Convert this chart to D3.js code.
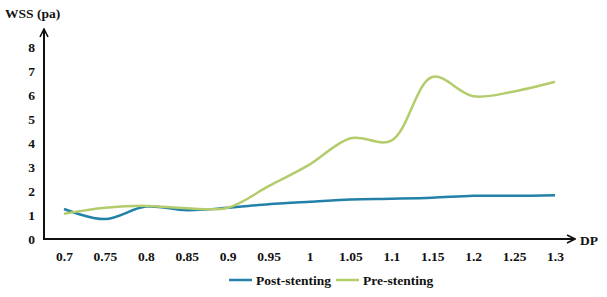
<!DOCTYPE html>
<html>
<head>
<meta charset="utf-8">
<script src="https://cdn.jsdelivr.net/npm/d3@7"></script>
<style>
  body { margin: 0; background: #fff; }
  svg text { font-family: "Liberation Serif", serif !important; font-weight: bold; }
</style>
</head>
<body>
<div id="container"></div>
<script>
// data
let dpValues = [0.7, 0.75, 0.8, 0.85, 0.9, 0.95, 1, 1.05, 1.1, 1.15, 1.2, 1.25, 1.3];
let dpLabels = ["0.7", "0.75", "0.8", "0.85", "0.9", "0.95", "1", "1.05", "1.1", "1.15", "1.2", "1.25", "1.3"];
let postStenting = [1.25, 0.83, 1.35, 1.2, 1.3, 1.45, 1.55, 1.65, 1.68, 1.72, 1.8, 1.8, 1.82];
let preStenting = [1.05, 1.3, 1.38, 1.28, 1.3, 2.2, 3.1, 4.2, 4.1, 6.75, 5.95, 6.15, 6.55];
let yTicks = [0, 1, 2, 3, 4, 5, 6, 7, 8];

let w = 607;
let h = 297;
let fontSize = "13.5px";

let viz = d3.select("#container")
  .append("svg")
    .attr("width", w)
    .attr("height", h)
    .attr("font-family", "Liberation Serif, serif")
;

let xScale = d3.scalePoint().domain(dpValues).range([64, 555]);
let yScale = d3.scaleLinear().domain([0, 8]).range([239, 47]);

let axisColor = "#111";

// arrow heads
let defs = viz.append("defs");
defs.append("marker")
    .attr("id", "arrow")
    .attr("viewBox", "0 0 10 10")
    .attr("refX", 9)
    .attr("refY", 5)
    .attr("markerWidth", 10)
    .attr("markerHeight", 10)
    .attr("markerUnits", "userSpaceOnUse")
    .attr("orient", "auto")
  .append("path")
    .attr("d", "M1,1 L9,5 L1,9")
    .attr("fill", "none")
    .attr("stroke", axisColor)
    .attr("stroke-width", 1.6)
;

// y axis
viz.append("line")
    .attr("x1", 44).attr("y1", yScale(0) + 1)
    .attr("x2", 44).attr("y2", 29)
    .attr("stroke", axisColor)
    .attr("stroke-width", 2)
    .attr("marker-end", "url(#arrow)")
;
let yAxis = d3.axisLeft(yScale).tickValues(yTicks).tickSize(0).tickPadding(9);
let yAxisGroup = viz.append("g")
    .attr("transform", "translate(44,0)")
    .call(yAxis)
    .attr("font-family", null)
    .attr("font-size", fontSize);
yAxisGroup.select(".domain").remove();
yAxisGroup.selectAll("text").attr("fill", "#111");

// x axis
viz.append("line")
    .attr("x1", 43).attr("y1", yScale(0))
    .attr("x2", 575).attr("y2", yScale(0))
    .attr("stroke", axisColor)
    .attr("stroke-width", 2)
    .attr("marker-end", "url(#arrow)")
;
let xAxis = d3.axisBottom(xScale).tickSize(0).tickPadding(12)
    .tickFormat(function(d, i){ return dpLabels[i]; });
let xAxisGroup = viz.append("g")
    .attr("transform", "translate(0," + yScale(0) + ")")
    .call(xAxis)
    .attr("font-family", null)
    .attr("font-size", fontSize);
xAxisGroup.select(".domain").remove();
xAxisGroup.selectAll("text").attr("fill", "#111");

// axis titles
viz.append("text")
    .attr("x", 5).attr("y", 18)
    .attr("font-size", fontSize)
    .attr("fill", "#111")
    .text("WSS (pa)");
viz.append("text")
    .attr("x", 580).attr("y", 245)
    .attr("font-size", fontSize)
    .attr("fill", "#111")
    .text("DP");

// lines
let series = [
  { name: "Post-stenting", values: postStenting, color: "#2280a9" },
  { name: "Pre-stenting", values: preStenting, color: "#b3cc6c" }
];

let lineMaker = d3.line()
  .x(function(d, i){ return xScale(dpValues[i]); })
  .y(function(d){ return yScale(d); })
  .curve(d3.curveCatmullRom.alpha(0.5));

viz.append("g").selectAll(".line").data(series).enter()
  .append("path")
    .attr("class", "line")
    .attr("d", function(d){ return lineMaker(d.values); })
    .attr("fill", "none")
    .attr("stroke", function(d){ return d.color; })
    .attr("stroke-width", 2.5)
;

// legend
let legendX = [229, 336];
let legend = viz.append("g").selectAll(".legend").data(series).enter()
  .append("g")
    .attr("transform", function(d, i){ return "translate(" + legendX[i] + ",280)"; });
legend.append("line")
    .attr("x1", 0).attr("x2", 23)
    .attr("stroke", function(d){ return d.color; })
    .attr("stroke-width", 2.5);
legend.append("text")
    .attr("x", 27).attr("y", 4.5)
    .attr("font-size", fontSize)
    .attr("fill", "#111")
    .text(function(d){ return d.name; });
</script>
</body>
</html>
